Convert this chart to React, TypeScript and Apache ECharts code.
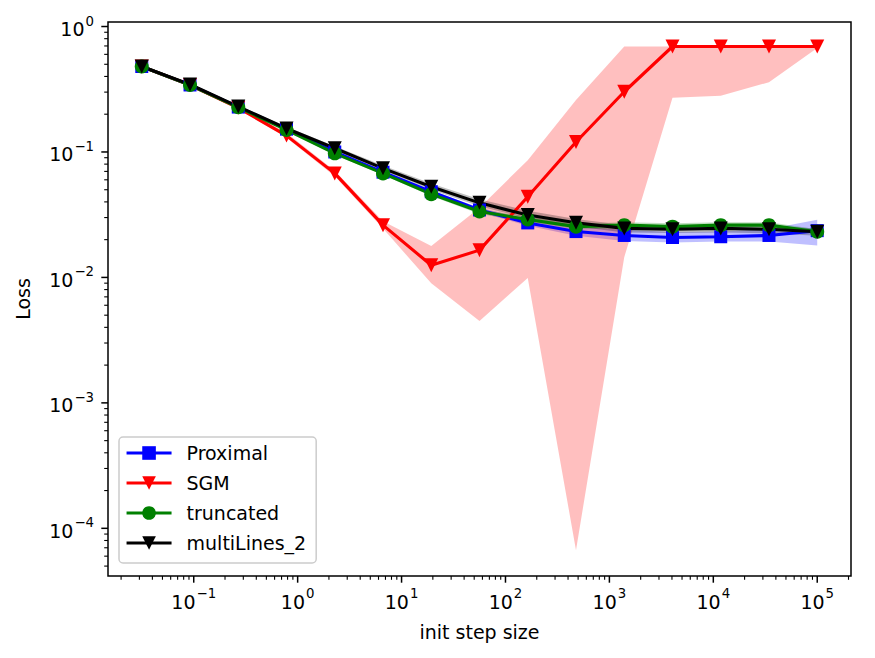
import React, { useEffect, useRef } from 'react';
import * as echarts from 'echarts';

// Initial step sizes (x) — log-spaced from 10^-1.5 to 10^5
const stepSizes = [0.03162, 0.09211, 0.2683, 0.7813, 2.276, 6.629, 19.31, 56.23, 163.8, 477.1, 1389.5, 4047, 11788, 34333, 100000];

// Mean loss per method
const proximal = [0.48, 0.342, 0.228, 0.152, 0.1, 0.069, 0.0482, 0.0345, 0.0272, 0.0232, 0.0216, 0.0208, 0.0211, 0.0216, 0.0236];
const sgm = [0.48, 0.342, 0.225, 0.135, 0.0675, 0.0261, 0.0125, 0.0165, 0.044, 0.12, 0.302, 0.693, 0.693, 0.693, 0.693];
const truncated = [0.48, 0.342, 0.227, 0.15, 0.0975, 0.0675, 0.0461, 0.0335, 0.029, 0.0254, 0.0261, 0.0254, 0.0261, 0.0261, 0.0231];
const multiLines2 = [0.48, 0.345, 0.23, 0.154, 0.107, 0.074, 0.0528, 0.0393, 0.0314, 0.0273, 0.0246, 0.0242, 0.0246, 0.0242, 0.0231];

// Spread (low / high) per method
const proximalLow = [0.47, 0.335, 0.223, 0.148, 0.097, 0.067, 0.0465, 0.033, 0.0258, 0.0215, 0.0195, 0.019, 0.0193, 0.0193, 0.018];
const proximalHigh = [0.49, 0.35, 0.233, 0.156, 0.103, 0.071, 0.0495, 0.036, 0.029, 0.0255, 0.024, 0.023, 0.0232, 0.0243, 0.0288];
const sgmLow = [0.47, 0.335, 0.22, 0.13, 0.064, 0.0245, 0.009, 0.0045, 0.0099, 0.000067, 0.0145, 0.27, 0.28, 0.36, 0.675];
const sgmHigh = [0.49, 0.35, 0.232, 0.142, 0.071, 0.028, 0.0178, 0.036, 0.086, 0.26, 0.693, 0.693, 0.693, 0.693, 0.693];
const truncatedLow = [0.47, 0.335, 0.222, 0.147, 0.095, 0.0655, 0.0445, 0.032, 0.0278, 0.0243, 0.0245, 0.024, 0.0245, 0.0245, 0.0222];
const truncatedHigh = [0.49, 0.35, 0.232, 0.153, 0.1, 0.0695, 0.0478, 0.035, 0.0305, 0.0268, 0.0275, 0.027, 0.0275, 0.0275, 0.0242];
const multiLines2Low = [0.47, 0.338, 0.225, 0.15, 0.103, 0.071, 0.05, 0.037, 0.0295, 0.0255, 0.0228, 0.0226, 0.0228, 0.0225, 0.0215];
const multiLines2High = [0.49, 0.352, 0.236, 0.159, 0.111, 0.078, 0.056, 0.042, 0.034, 0.0292, 0.0262, 0.0258, 0.026, 0.0258, 0.0245];

// Axis limits, in decades
const xLogRange = [-1.825, 5.325];
const yLogRange = [-4.38, 0.036];

const FONT = 'DejaVu Sans';
const LINE_WIDTH = 3.1;
const log10 = (v: number) => Math.log10(v);

// Decade + sub-decade tick positions for a log axis
function logTicks(range: number[]) {
  const out: number[][] = [];
  for (let k = Math.floor(range[0]); k <= Math.ceil(range[1]); k++) {
    for (let m = 1; m <= 9; m++) {
      const v = k + Math.log10(m);
      if (v >= range[0] - 1e-9 && v <= range[1] + 1e-9) out.push([v, m === 1 ? 1 : 0]);
    }
  }
  return out;
}

function powerLabel(v: number) {
  const r = Math.round(v);
  if (Math.abs(v - r) > 1e-6) return '';
  const exp = r < 0 ? '\u2212' + Math.abs(r) : String(r);
  return `{b|10}{s|${exp}}`;
}

const labelRich = {
  b: { fontSize: 19, fontFamily: FONT, color: '#000', lineHeight: 24, verticalAlign: 'bottom' },
  s: { fontSize: 13.3, fontFamily: FONT, color: '#000', lineHeight: 24, verticalAlign: 'top', padding: [0, 0, 0, 1] },
};

const trianglePath = 'path://M0,0L10,0L5,10Z';

function lineSeries(name: string, values: number[], color: string, symbol: string, size: number) {
  return {
    type: 'line',
    name,
    data: stepSizes.map((s, i) => [log10(s), log10(values[i])]),
    symbol,
    symbolSize: size,
    symbolKeepAspect: true,
    lineStyle: { color, width: LINE_WIDTH },
    itemStyle: { color, borderWidth: 0 },
    emphasis: { disabled: true },
  };
}

function bandSeries(low: number[], high: number[], fill: string) {
  return {
    type: 'custom',
    coordinateSystem: 'cartesian2d',
    silent: true,
    clip: true,
    data: [[xLogRange[0], yLogRange[0]]],
    renderItem: (_params: any, api: any) => {
      const upper = stepSizes.map((s, i) => api.coord([log10(s), log10(high[i])]));
      const lower = stepSizes.map((s, i) => api.coord([log10(s), log10(low[i])])).reverse();
      return {
        type: 'polygon',
        shape: { points: upper.concat(lower) },
        style: { fill, stroke: 'none' },
      };
    },
  };
}

function tickSeries() {
  const items: number[][] = [];
  logTicks(xLogRange).forEach(([v, major]) => items.push([0, v, major]));
  logTicks(yLogRange).forEach(([v, major]) => items.push([1, v, major]));
  return {
    type: 'custom',
    coordinateSystem: 'cartesian2d',
    silent: true,
    clip: false,
    encode: { x: 1, y: 1 },
    data: items,
    renderItem: (_params: any, api: any) => {
      const which = api.value(0);
      const v = api.value(1);
      const major = api.value(2) === 1;
      const len = major ? 6.7 : 3.8;
      const style = { stroke: '#000', lineWidth: major ? 1.5 : 1.1 };
      if (which === 0) {
        const p = api.coord([v, yLogRange[0]]);
        return { type: 'line', shape: { x1: p[0], y1: p[1], x2: p[0], y2: p[1] + len }, style };
      }
      const p = api.coord([xLogRange[0], v]);
      return { type: 'line', shape: { x1: p[0] - len, y1: p[1], x2: p[0], y2: p[1] }, style };
    },
  };
}

export default function App() {
  const ref = useRef<HTMLDivElement>(null);

  useEffect(() => {
    if (!ref.current) return;
    const chart = echarts.init(ref.current, undefined, { renderer: 'svg' });
    chart.setOption({
      animation: false,
      backgroundColor: '#ffffff',
      textStyle: { fontFamily: FONT },
      grid: {
        left: 108,
        top: 22,
        width: 743,
        height: 554,
        show: true,
        borderColor: '#000',
        borderWidth: 1.5,
        backgroundColor: 'transparent',
      },
      legend: {
        orient: 'vertical',
        left: 119,
        top: 437,
        data: ['Proximal', 'SGM', 'truncated', 'multiLines_2'],
        itemWidth: 45,
        itemHeight: 17,
        itemGap: 10,
        padding: [6, 10, 10, 6],
        backgroundColor: 'rgba(255,255,255,0.8)',
        borderColor: '#cccccc',
        borderWidth: 1.5,
        borderRadius: 4,
        selectedMode: false,
        lineStyle: { width: LINE_WIDTH },
        textStyle: { fontSize: 19, fontFamily: FONT, color: '#000', lineHeight: 20, padding: [0, 0, 0, 10] },
      },
      xAxis: {
        type: 'value',
        min: xLogRange[0],
        max: xLogRange[1],
        splitNumber: 7,
        minInterval: 1,
        maxInterval: 1,
        name: 'init step size',
        nameLocation: 'middle',
        nameGap: 46,
        nameTextStyle: { fontSize: 19, fontFamily: FONT, color: '#000', lineHeight: 20 },
        axisLine: { show: false },
        axisTick: { show: false },
        splitLine: { show: false },
        axisLabel: { margin: 11, formatter: powerLabel, rich: labelRich, color: '#000' },
      },
      yAxis: {
        type: 'value',
        min: yLogRange[0],
        max: yLogRange[1],
        splitNumber: 4,
        minInterval: 1,
        maxInterval: 1,
        name: 'Loss',
        nameLocation: 'middle',
        nameRotate: 90,
        nameGap: 75,
        nameTextStyle: { fontSize: 19, fontFamily: FONT, color: '#000', lineHeight: 20 },
        axisLine: { show: false },
        axisTick: { show: false },
        splitLine: { show: false },
        axisLabel: { margin: 14, formatter: powerLabel, rich: labelRich, color: '#000' },
      },
      series: [
        bandSeries(proximalLow, proximalHigh, 'rgba(0,0,255,0.25)'),
        bandSeries(sgmLow, sgmHigh, 'rgba(255,0,0,0.25)'),
        bandSeries(truncatedLow, truncatedHigh, 'rgba(0,128,0,0.25)'),
        bandSeries(multiLines2Low, multiLines2High, 'rgba(0,0,0,0.25)'),
        lineSeries('Proximal', proximal, '#0000ff', 'rect', 13),
        lineSeries('SGM', sgm, '#ff0000', trianglePath, 14),
        lineSeries('truncated', truncated, '#008000', 'circle', 14),
        lineSeries('multiLines_2', multiLines2, '#000000', trianglePath, 14),
        tickSeries(),
      ],
    });
    return () => chart.dispose();
  }, []);

  return (
    <div
      ref={ref}
      style={{ position: 'absolute', left: 0, top: 0, width: 875, height: 658, background: '#fff' }}
    />
  );
}
